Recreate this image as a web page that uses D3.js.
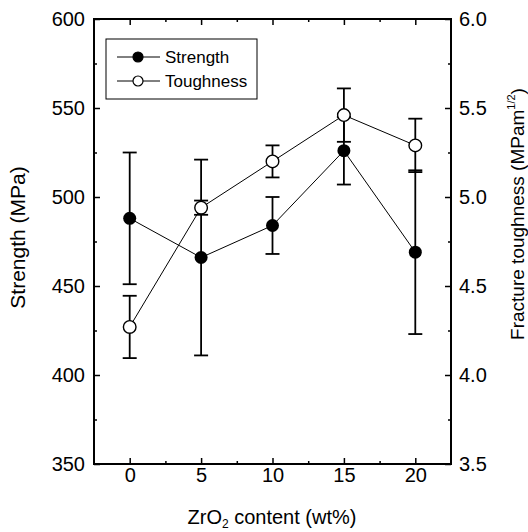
<!DOCTYPE html>
<html>
<head>
<meta charset="utf-8">
<script src="https://cdn.jsdelivr.net/npm/d3@7"></script>
<style>
  body { margin: 0; background: #fff; }
  svg { font-family: "Liberation Sans", Arial, sans-serif; }
  .axis path { display: none; }
  .axis line { stroke: #000; stroke-width: 1.5; }
  .axis text { font-size: 20px; fill: #000; }
</style>
</head>
<body>
<div id="chart"></div>
<script>
// Data
const zro2 = [0, 5, 10, 15, 20];
const strength = [488, 466, 484, 526, 469];
const strengthErr = [37, 55, 16, 19, 46];
const toughness = [4.27, 4.94, 5.20, 5.46, 5.29];
const toughnessErr = [0.175, 0.04, 0.09, 0.15, 0.15];

const xTicks = [0, 5, 10, 15, 20];
const leftTicks = [350, 400, 450, 500, 550, 600];
const rightTicks = [3.5, 4.0, 4.5, 5.0, 5.5, 6.0];

const W = 528, H = 532;
const plot = { left: 94, right: 451, top: 19, bottom: 464 };

const svg = d3.select("#chart").append("svg")
    .attr("width", W)
    .attr("height", H);

const x = d3.scaleLinear().domain([-2.5, 22.5]).range([plot.left, plot.right]);
const yL = d3.scaleLinear().domain([350, 600]).range([plot.bottom, plot.top]);
const yR = d3.scaleLinear().domain([3.5, 6.0]).range([plot.bottom, plot.top]);

// Axes (ticks point inward)
const xMinor = [2.5, 7.5, 12.5, 17.5];
svg.append("g").attr("class", "axis")
    .attr("transform", `translate(0,${plot.bottom})`)
    .call(d3.axisBottom(x).tickValues(xTicks).tickSize(-6).tickPadding(4));
svg.append("g").attr("class", "axis")
    .attr("transform", `translate(0,${plot.bottom})`)
    .call(d3.axisBottom(x).tickValues(xMinor).tickFormat("").tickSize(-3));
svg.append("g").attr("class", "axis")
    .attr("transform", `translate(0,${plot.top})`)
    .call(d3.axisTop(x).tickValues(xTicks).tickFormat("").tickSize(-6));
svg.append("g").attr("class", "axis")
    .attr("transform", `translate(0,${plot.top})`)
    .call(d3.axisTop(x).tickValues(xMinor).tickFormat("").tickSize(-3));

svg.append("g").attr("class", "axis")
    .attr("transform", `translate(${plot.left},0)`)
    .call(d3.axisLeft(yL).tickValues(leftTicks).tickSize(-6).tickPadding(9));
svg.append("g").attr("class", "axis")
    .attr("transform", `translate(${plot.left},0)`)
    .call(d3.axisLeft(yL).tickValues([375, 425, 475, 525, 575]).tickFormat("").tickSize(-3));

svg.append("g").attr("class", "axis")
    .attr("transform", `translate(${plot.right},0)`)
    .call(d3.axisRight(yR).tickValues(rightTicks).tickFormat(d3.format(".1f")).tickSize(-6).tickPadding(8));
svg.append("g").attr("class", "axis")
    .attr("transform", `translate(${plot.right},0)`)
    .call(d3.axisRight(yR).tickValues([3.75, 4.25, 4.75, 5.25, 5.75]).tickFormat("").tickSize(-3));

// Frame
svg.append("rect")
    .attr("x", plot.left).attr("y", plot.top)
    .attr("width", plot.right - plot.left)
    .attr("height", plot.bottom - plot.top)
    .attr("fill", "none")
    .attr("stroke", "#000")
    .attr("stroke-width", 2);

// Axis titles
svg.append("text")
    .attr("transform", `translate(25,${(plot.top + plot.bottom) / 2 - 4}) rotate(-90)`)
    .attr("text-anchor", "middle")
    .style("font-size", "21px")
    .text("Strength (MPa)");

const rt = svg.append("text")
    .attr("transform", `translate(524,214) rotate(-90)`)
    .attr("text-anchor", "middle")
    .style("font-size", "19px");
rt.append("tspan").text("Fracture toughness (MPam");
rt.append("tspan").attr("dy", -9).style("font-size", "11px").text("1/2");
rt.append("tspan").attr("dy", 9).text(")");

const xt = svg.append("text")
    .attr("x", 272).attr("y", 524)
    .attr("text-anchor", "middle")
    .style("font-size", "20px");
xt.append("tspan").text("ZrO");
xt.append("tspan").attr("dy", 4).style("font-size", "12px").text("2");
xt.append("tspan").attr("dy", -4).text(" content (wt%)");

// Series
function drawSeries(vals, errs, yScale) {
  const pts = zro2.map((d, i) => ({ x: d, v: vals[i], e: errs[i] }));
  const g = svg.append("g");

  g.append("path")
      .datum(pts)
      .attr("fill", "none")
      .attr("stroke", "#000")
      .attr("stroke-width", 1)
      .attr("d", d3.line().x(d => x(d.x)).y(d => yScale(d.v)));

  const eb = g.selectAll(".err").data(pts).join("g").attr("class", "err");
  eb.append("line")
      .attr("x1", d => x(d.x)).attr("x2", d => x(d.x))
      .attr("y1", d => yScale(d.v - d.e)).attr("y2", d => yScale(d.v + d.e))
      .attr("stroke", "#000").attr("stroke-width", 1.8);
  [-1, 1].forEach(s => {
    eb.append("line")
        .attr("x1", d => x(d.x) - 7).attr("x2", d => x(d.x) + 7)
        .attr("y1", d => yScale(d.v + s * d.e)).attr("y2", d => yScale(d.v + s * d.e))
        .attr("stroke", "#000").attr("stroke-width", 1.8);
  });
  return { g, pts };
}

const s1 = drawSeries(strength, strengthErr, yL);
const s2 = drawSeries(toughness, toughnessErr, yR);

s1.g.selectAll("circle").data(s1.pts).join("circle")
    .attr("cx", d => x(d.x)).attr("cy", d => yL(d.v))
    .attr("r", 6.5).attr("fill", "#000");
s2.g.selectAll("circle").data(s2.pts).join("circle")
    .attr("cx", d => x(d.x)).attr("cy", d => yR(d.v))
    .attr("r", 6.3).attr("fill", "#fff")
    .attr("stroke", "#000").attr("stroke-width", 1.4);

// Legend
const lg = svg.append("g");
lg.append("rect")
    .attr("x", 106).attr("y", 39).attr("width", 151).attr("height", 60)
    .attr("fill", "#fff").attr("stroke", "#000").attr("stroke-width", 1);
const legendItems = [
  { label: "Strength", filled: true, y: 57 },
  { label: "Toughness", filled: false, y: 81 }
];
legendItems.forEach(it => {
  lg.append("line")
      .attr("x1", 117).attr("x2", 160).attr("y1", it.y).attr("y2", it.y)
      .attr("stroke", "#000").attr("stroke-width", 1);
  lg.append("circle")
      .attr("cx", 138).attr("cy", it.y).attr("r", 5)
      .attr("fill", it.filled ? "#000" : "#fff")
      .attr("stroke", "#000").attr("stroke-width", 1.2);
  lg.append("text")
      .attr("x", 165).attr("y", it.y).attr("dy", "0.35em")
      .style("font-size", "17px")
      .text(it.label);
});
</script>
</body>
</html>
